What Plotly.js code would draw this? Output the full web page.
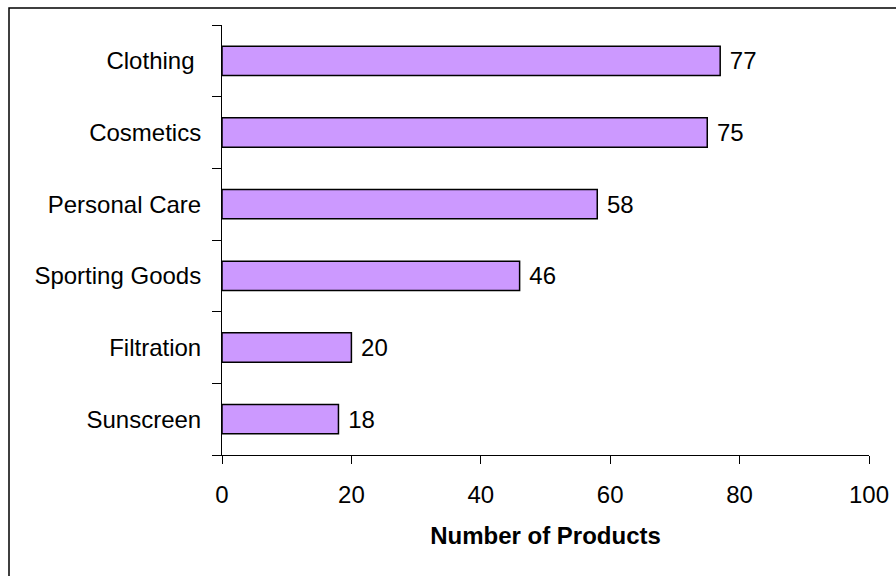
<!DOCTYPE html>
<html>
<head>
<meta charset="utf-8">
<script src="https://cdn.plot.ly/plotly-3.0.1.min.js"></script>
<style>html,body{margin:0;padding:0;background:#fff;}#chart{width:896px;height:576px;}</style>
</head>
<body>
<div id="chart"></div>
<script>
const categories = ["Clothing", "Cosmetics", "Personal Care", "Sporting Goods", "Filtration", "Sunscreen"];
const categoryLabels = ["Clothing\u00a0", "Cosmetics", "Personal Care", "Sporting Goods", "Filtration", "Sunscreen"];
const values = [77, 75, 58, 46, 20, 18];
const xTickValues = [0, 20, 40, 60, 80, 100];
const xTitle = "Number of Products";

const font = "Arial, 'Liberation Sans', sans-serif";

const trace = {
  type: "bar",
  orientation: "h",
  y: categories,
  x: values,
  text: values.map(v => "\u00a0" + v),
  textposition: "outside",
  cliponaxis: false,
  textfont: {family: font, size: 24, color: "#000"},
  marker: {color: "#CC99FF", line: {color: "#000", width: 1.5}},
  hoverinfo: "none"
};

const layout = {
  width: 896, height: 576,
  margin: {l: 222, r: 27, t: 25, b: 121},
  paper_bgcolor: "#fff", plot_bgcolor: "#fff",
  showlegend: false,
  bargap: 0.59,
  font: {family: font, size: 24, color: "#000"},
  xaxis: {
    range: [0, 100],
    tickvals: xTickValues,
    ticks: "outside", ticklen: 8, tickwidth: 1, tickcolor: "#000",
    showline: true, linecolor: "#000", linewidth: 1,
    showgrid: false, zeroline: false,
    tickfont: {family: font, size: 24, color: "#000"},
    ticklabelstandoff: 10,
    title: {text: "<b>" + xTitle + "</b>", font: {family: font, size: 24, color: "#000"}, standoff: 20}
  },
  yaxis: {
    type: "category",
    autorange: "reversed",
    tickson: "boundaries",
    tickvals: categories,
    ticktext: categoryLabels,
    ticks: "outside", ticklen: 9, tickwidth: 1, tickcolor: "#000",
    showline: true, linecolor: "#000", linewidth: 1,
    showgrid: false, zeroline: false,
    tickfont: {family: font, size: 24, color: "#000"},
    ticklabelstandoff: 15
  },
  shapes: [{
    type: "rect", xref: "paper", yref: "paper",
    x0: (9 - 222) / 647, x1: 1.3, y0: -0.5, y1: (455 - 8) / 430,
    line: {color: "#000", width: 1.5}, fillcolor: "rgba(0,0,0,0)", layer: "below"
  }]
};

Plotly.newPlot("chart", [trace], layout, {displayModeBar: false, staticPlot: true});
</script>
</body>
</html>
